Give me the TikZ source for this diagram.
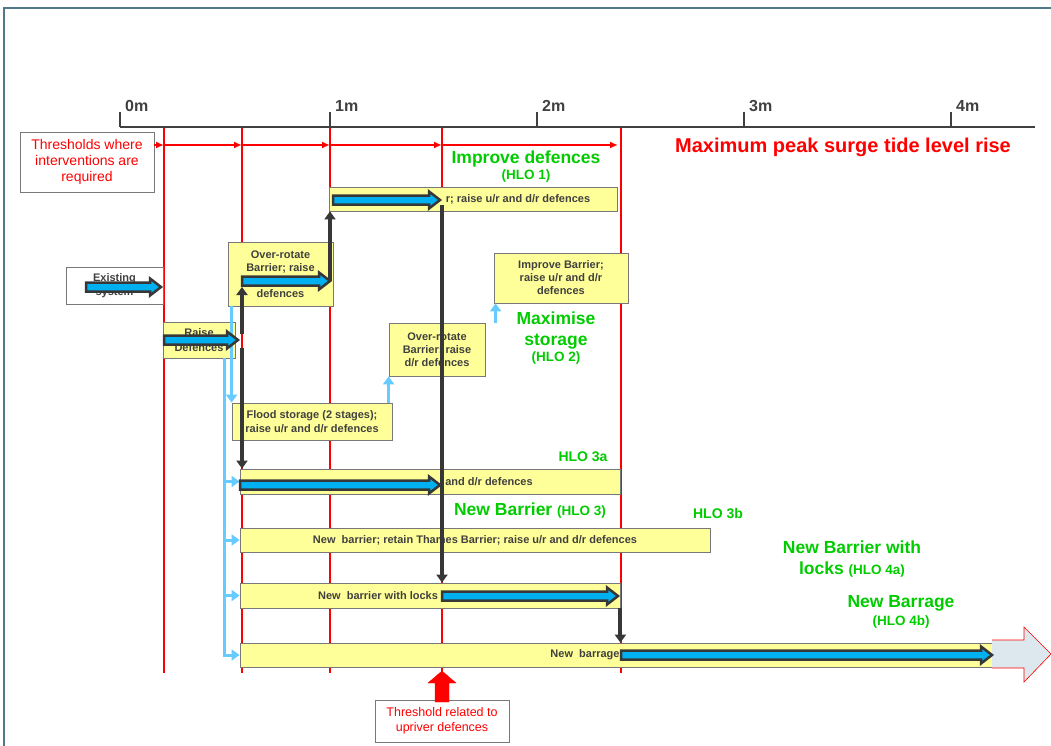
\documentclass[tikz,border=0pt]{standalone}
\usepackage{fontspec}
\setmainfont{Liberation Sans}
\usepackage{xcolor}
\usepackage{tikz}
\usetikzlibrary{arrows.meta, calc}
\definecolor{stageyellow}{RGB}{255,255,153}
\definecolor{boxgray}{RGB}{120,120,120}
\definecolor{textgray}{RGB}{64,64,64}
\definecolor{hlogreen}{RGB}{0,204,0}
\definecolor{linkblue}{RGB}{102,204,255}
\definecolor{flowblue}{RGB}{0,176,240}
\definecolor{flowgray}{RGB}{55,55,55}
\definecolor{framegray}{RGB}{80,120,135}
\definecolor{futurefill}{RGB}{221,232,238}
\newcommand{\hlotag}{\fontsize{13.5}{16}\selectfont}
\tikzset{
  stage/.style={
    draw=boxgray,
    fill=stageyellow,
    line width=0.8pt,
    inner sep=0pt,
    align=center,
    text=textgray,
    font=\bfseries\fontsize{11}{13}\selectfont
  },
  note/.style={
    draw=boxgray,
    fill=white,
    line width=0.8pt,
    inner sep=0pt,
    align=center,
    text=red,
    font=\fontsize{14}{16}\selectfont
  },
  hlo/.style={text=hlogreen, align=center, inner sep=0pt, font=\bfseries\fontsize{17.5}{21}\selectfont},
  hlosmall/.style={text=hlogreen, inner sep=0pt, font=\bfseries\fontsize{14}{16}\selectfont},
  tick/.style={text=textgray, anchor=west, inner sep=0pt, font=\bfseries\fontsize{16}{18}\selectfont},
  axis/.style={draw=textgray, line width=2pt},
  threshold/.style={red, line width=2pt},
  thresholdarrow/.style={red, line width=1.6pt, -{Latex[length=8pt, width=7pt]}},
  routearrow/.style={draw=flowgray, line width=4pt, -{Triangle[length=8pt, width=11pt]}},
  optionarrow/.style={draw=linkblue, line width=3pt, -{Triangle[length=8pt, width=11pt]}},
  flow/.style={draw=flowgray, fill=flowblue, line width=2.5pt, line join=miter}
}
\newcommand{\flowarrow}[2]{%
  \path[flow] let \p1=(#1), \p2=(#2) in
    (\x1,\y1+4.5pt) -- (\x2-11pt,\y1+4.5pt) -- (\x2-11pt,\y1+8.5pt) -- (\x2,\y1)
    -- (\x2-11pt,\y1-8.5pt) -- (\x2-11pt,\y1-4.5pt) -- (\x1,\y1-4.5pt) -- cycle;}

\begin{document}
\begin{tikzpicture}[x=1pt, y=-1pt]
\useasboundingbox (0,0) rectangle (1051,746);
\draw[framegray, line width=1.5pt] (4,746) -- (4,8) -- (1051,8);

\foreach \x in {164,242,330,442,621}
  \draw[threshold] (\x,127) -- (\x,673);

\draw[axis] (120,127) -- (1035,127);
\foreach \x/\m in {120/0,330/1,537/2,744/3,951/4}{
  \draw[axis] (\x,112) -- (\x,127);
  \node[tick] (tick\m) at (\x+5,106) {\m m};
}
\node[text=red, font=\bfseries\fontsize{20}{24}\selectfont] (surge) at (843,147) {Maximum peak surge tide level rise};

\node[note, minimum width=134, minimum height=60] (thresholds) at (87,162) {Thresholds where\\interventions are\\required};
\node[note, minimum width=134, minimum height=42, font=\fontsize{12.5}{15}\selectfont] (upriver) at (442,721) {Threshold related to\\upriver defences};

\coordinate (thr0) at (154,145);
\coordinate (thr1) at (164,145);
\coordinate (thr2) at (242,145);
\coordinate (thr3) at (330,145);
\coordinate (thr4) at (442,145);
\coordinate (thr5) at (618,145);
\draw[thresholdarrow] (thr0) -- (thr1);
\draw[thresholdarrow] (thr1) -- (thr2);
\draw[thresholdarrow] (thr2) -- (thr3);
\draw[thresholdarrow] (thr3) -- (thr4);
\draw[thresholdarrow] (thr4) -- (thr5);

\node[stage, fill=white, minimum width=97, minimum height=37] (existing) at (114.5,285.5) {Existing\\[1pt]system};
\node[stage, minimum width=72, minimum height=36] (raise) at (199,340) {Raise\\[2pt]Defences};
\node[stage, minimum width=105, minimum height=64] (overrotate) at (280.5,274) {Over-rotate\\Barrier; raise\\[13pt]defences};
\node[stage, minimum width=288, minimum height=24] (hlo1bar) at (473,199) {\hspace*{90pt}r; raise u/r and d/r defences};
\node[stage, minimum width=134, minimum height=50] (improve) at (561,278) {Improve Barrier;\\raise u/r and d/r\\defences};
\node[stage, minimum width=96, minimum height=53] (overrotate2) at (437,349.5) {Over-rotate\\Barrier; raise\\d/r defences};
\node[stage, minimum width=160, minimum height=37] (flood) at (312,421.5) {Flood storage (2 stages);\\[1pt]raise u/r and d/r defences};
\node[stage, minimum width=380, minimum height=25] (hlo3abar) at (430,481.5) {\hspace*{118pt}and d/r defences};
\node[stage, minimum width=470, minimum height=24] (retainbar) at (475,540) {New\ \ barrier; retain Thames Barrier; raise u/r and d/r defences};
\node[stage, minimum width=380, minimum height=25] (locksbar) at (430,595.5) {New\ \ barrier with locks\hspace*{104pt}};
\node[stage, minimum width=752, minimum height=24] (barragebar) at (616,655) {New\ \ barrage\hspace*{62pt}};

\draw[red, line width=0.6pt, fill=futurefill] (992,640) -- (1024,640) -- (1024,627) -- (1051,654) -- (1024,682) -- (1024,668) -- (992,668);
\draw[red, fill=red] (435,702) -- (435,683) -- (428,683) -- (442,671) -- (456,683) -- (449,683) -- (449,702) -- cycle;

\node[hlo] (hlo1) at (526,167) {Improve defences\\[-5pt]{\hlotag (HLO 1)}};
\node[hlo] (hlo2) at (556,338) {Maximise\\storage\\[-5pt]{\hlotag (HLO 2)}};
\node[hlosmall] (hlo3a) at (583,457) {HLO 3a};
\node[hlo] (hlo3) at (530,511) {New Barrier {\hlotag (HLO 3)}};
\node[hlosmall] (hlo3b) at (718,514) {HLO 3b};
\node[hlo] (hlo4a) at (852,559) {New Barrier with\\locks {\hlotag (HLO 4a)}};
\node[hlo] (hlo4b) at (901,612) {New Barrage\\[-3pt]{\hlotag (HLO 4b)}};

\coordinate (optstart) at (224,358);
\draw[optionarrow] (optstart) |- (barragebar.west);
\foreach \bar in {hlo3abar, retainbar, locksbar}
  \draw[optionarrow] (optstart |- \bar.west) -- (\bar.west);
\draw[optionarrow] (flood.north west |- overrotate.south) -- (flood.north west);
\draw[optionarrow] (overrotate2.south west |- flood.north) -- (overrotate2.south west);
\draw[optionarrow] ($(improve.south west |- overrotate2.north)+(2,0)$) -- ($(improve.south west)+(2,0)$);

\coordinate (fa1) at (86,287);
\coordinate (fb1) at (161,287);
\coordinate (fa2) at (164,340);
\coordinate (fb2) at (238,340);
\coordinate (fa3) at (242,281);
\coordinate (fb3) at (330,281);
\coordinate (fa4) at (333,200);
\coordinate (fb4) at (440,200);
\coordinate (fa5) at (240,485);
\coordinate (fb5) at (440,485);
\coordinate (fa6) at (442,596);
\coordinate (fb6) at (618,596);
\coordinate (fa7) at (621,655);
\coordinate (fb7) at (992,655);
\coordinate (drop1) at (242,334);
\coordinate (drop2) at (242,348);
\coordinate (drop4) at (442,205);

\draw[routearrow, shorten >=6pt] (drop1) -- (fa3);
\draw[routearrow] (drop2) -- (drop2 |- hlo3abar.north);
\draw[routearrow] (fb3) -- (fb3 |- hlo1bar.south);
\draw[routearrow] (drop4) -- (drop4 |- locksbar.north);
\draw[routearrow] (locksbar.south east) -- (locksbar.south east |- barragebar.north);

\flowarrow{fa1}{fb1}
\flowarrow{fa2}{fb2}
\flowarrow{fa3}{fb3}
\flowarrow{fa4}{fb4}
\flowarrow{fa5}{fb5}
\flowarrow{fa6}{fb6}
\flowarrow{fa7}{fb7}
\end{tikzpicture}
\end{document}
